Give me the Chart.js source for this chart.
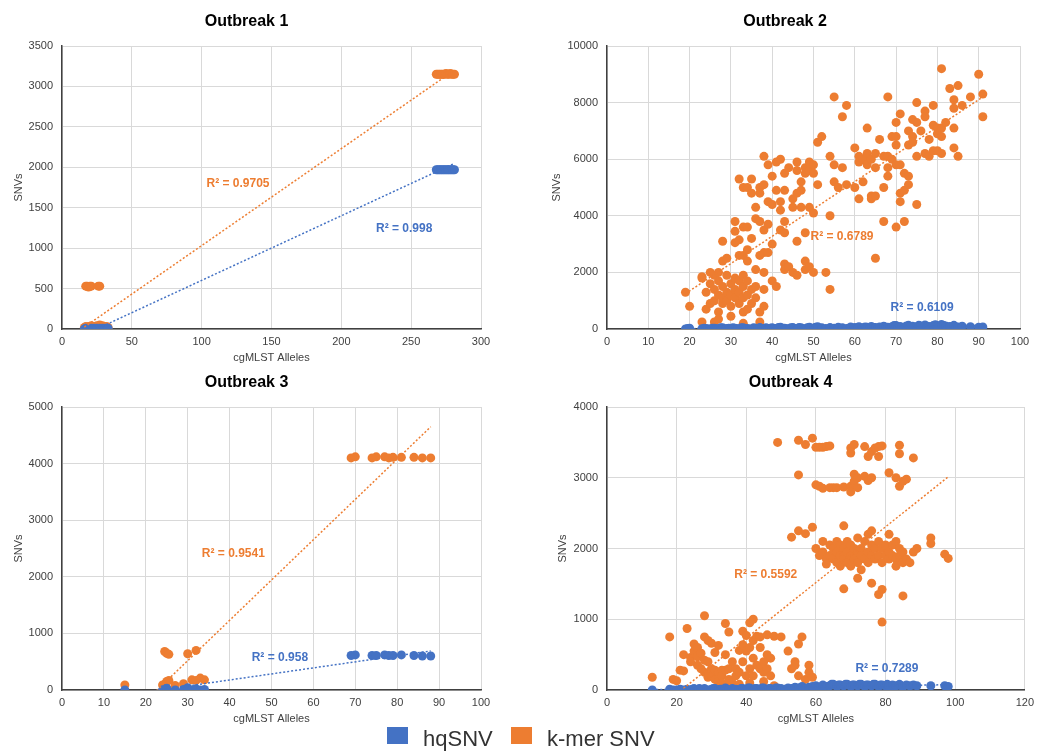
<!DOCTYPE html>
<html>
<head>
<meta charset="utf-8">
<script src="https://cdn.jsdelivr.net/npm/chart.js@4.4.1/dist/chart.umd.min.js"></script>
<style>
  body { margin:0; background:#fff; width:1040px; height:753px; position:relative; overflow:hidden; font-family:'Liberation Sans', Arial, sans-serif; }
  canvas { position:absolute; }
  .sw { position:absolute; width:21px; height:17px; }
  .lt { position:absolute; font-size:22px; line-height:22px; color:#333; white-space:nowrap; }
</style>
</head>
<body>
<canvas id="c1" width="520" height="372" style="left:0;top:0"></canvas>
<canvas id="c2" width="520" height="372" style="left:520px;top:0"></canvas>
<canvas id="c3" width="520" height="372" style="left:0;top:361px"></canvas>
<canvas id="c4" width="520" height="372" style="left:520px;top:361px"></canvas>
<div id="legend"></div>
<script>
// ---- data: [cgMLST alleles, SNVs] ----
const seriesNames = ['hqSNV', 'k-mer SNV'];

// Outbreak 1
const ob1Hq = [[16,0],[17,10],[18,0],[19,10],[20,0],[21,10],[22,0],[23,10],[24,0],[25,10],[26,0],[27,10],[28,0],[29,10],[30,0],[31,10],[32,0],[33,10],
  [268,1970],[269,1970],[270,1970],[271,1970],[272,1970],[273,1970],[274,1970],[275,1970],[276,1970],[277,1970],[278,1970],[279,1970],[280,1970],[281,1970]];
const ob1Kmer = [[16,20],[17,30],[18,10],[19,30],[20,20],[21,40],[22,10],[23,30],[24,20],[25,40],[26,30],[27,50],[28,20],[29,40],[30,30],[31,20],[32,30],[33,20],
  [17,530],[18,530],[19,520],[20,530],[21,530],[26,530],[27,530],
  [268,3150],[269,3150],[270,3150],[271,3150],[272,3150],[273,3150],[274,3150],[275,3160],[276,3150],[277,3150],[278,3160],[279,3150],[280,3150],[281,3150]];
const ob1HqTrend = [[16,-70],[280,2040]];
const ob1KmerTrend = [[16,24],[280,3190]];
const ob1R2 = [{x:245,y:1237,text:'R² = 0.998',s:0},{x:126,y:1793,text:'R² = 0.9705',s:1}];

// Outbreak 2
const ob2Hq = [[19,0],[19.5,20],[20,30],[23,10],[23.5,30],[24,20],[24.5,0],[25,0],[25.5,30],[26,30],[26.5,10],[27,10],[27.5,40],[28,40],[28.5,0],[29,20],[29.5,30],[30,0],[30.5,40],[31,30],[31.5,10],[32,10],[32.5,40],[33,40],[33.5,20],[34,20],[34.5,0],[35,0],[35.5,40],[36,30],[36.5,10],[37,50],[37.5,20],[38,20],[38.5,40],[39,10],[39.5,30],[40,40],[40.5,20],[41,20],[41.5,50],[42,60],[42.5,30],[43,30],[43.5,10],[44,10],[44.5,40],[45,50],[45.5,20],[46,20],[46.5,50],[47,40],[47.5,10],[48,10],[48.5,40],[49,60],[49.5,30],[50,30],[50.5,60],[51,80],[52,40],[53,20],[54,50],[55,30],[56,60],[57,40],[58,20],[59,70],[60,50],[60.5,30],[61,80],[62,40],[62.5,70],[63,60],[64,90],[64.5,50],[65,50],[66,70],[67,100],[67.5,60],[68,60],[69,80],[69.5,120],[70,120],[70.5,70],[71,90],[72,60],[72.5,110],[73,130],[73.5,90],[74,100],[75,80],[75.5,130],[76,110],[77,140],[77.5,80],[78,90],[79,120],[79.5,150],[80,100],[81,160],[81.5,120],[82,110],[83,90],[84,130],[84.5,60],[85,70],[86,100],[88,80],[90,60],[91,70]];
const ob2Kmer = [[19,1300],[20,800],[23,250],[23,1850],[23,1800],[24,700],[24,1300],[25,1600],[25,900],[25,2000],[26,1000],[26,1400],[26,1900],[26,250],[27,1700],[27,1200],[27,600],[27,2000],[27,350],[28,2400],[28,3100],[28,1500],[28,900],[28,1100],[29,2500],[29,1900],[29,1300],[29,1000],[30,1600],[30,1200],[30,800],[30,450],[31,3800],[31,3450],[31,3050],[31,1800],[31,1400],[31,1100],[32,5300],[32,3150],[32,2600],[32,1700],[32,1300],[32,900],[33,5000],[33,3600],[33,2600],[33,1900],[33,1500],[33,1100],[33,600],[33,200],[34,5000],[34,3600],[34,2800],[34,2400],[34,1700],[34,1200],[34,700],[35,5300],[35,4800],[35,3200],[35,1400],[35,900],[36,4300],[36,3900],[36,2100],[36,1500],[36,1100],[37,5000],[37,4800],[37,3800],[37,2600],[37,600],[37,250],[38,6100],[38,5100],[38,3500],[38,2700],[38,2000],[38,1400],[38,800],[39,5800],[39,4500],[39,3700],[39,2700],[40,5400],[40,4400],[40,3000],[40,1700],[41,5900],[41,4900],[41,1500],[42,6000],[42,4500],[42,4200],[42,3500],[43,5500],[43,4900],[43,3800],[43,3400],[43,2300],[43,2100],[44,5700],[44,2200],[45,4600],[45,4300],[45,2000],[46,5900],[46,5600],[46,4800],[46,3100],[46,1900],[47,5200],[47,4900],[47,4300],[48,5700],[48,5500],[48,3400],[48,2400],[48,2100],[49,5900],[49,5600],[49,4300],[49,2200],[50,5800],[50,5500],[50,4100],[50,2000],[51,6600],[51,5100],[52,6800],[53,2000],[54,6100],[54,4000],[54,1400],[55,8200],[55,5800],[55,5200],[56,5000],[57,7500],[57,5700],[58,7900],[58,5100],[60,6400],[60,5000],[61,6100],[61,5900],[61,4600],[62,6000],[62,5200],[63,7100],[63,6200],[63,5800],[64,6000],[64,4700],[64,4600],[65,6200],[65,5700],[65,4700],[65,2500],[66,6700],[67,6100],[67,5000],[67,3800],[68,8200],[68,6100],[68,5700],[68,5400],[69,6800],[69,6000],[70,7300],[70,6800],[70,6500],[70,5800],[70,3600],[71,7600],[71,5800],[71,4800],[71,4500],[72,5500],[72,4900],[72,3800],[73,7000],[73,6500],[73,5400],[73,5100],[74,7400],[74,6800],[74,6600],[75,8000],[75,7300],[75,6100],[75,4400],[76,7000],[77,7700],[77,7500],[77,6200],[78,6700],[78,6100],[79,7900],[79,7200],[79,6300],[80,7100],[80,6900],[80,6300],[81,9200],[81,7100],[81,6800],[81,6200],[82,7300],[83,8500],[84,8100],[84,7800],[84,7100],[84,6400],[85,8600],[85,6100],[86,7900],[88,8200],[90,9000],[91,8300],[91,7500]];
const ob2HqTrend = [[19,10],[91,130]];
const ob2KmerTrend = [[19,1250],[91,8200]];
const ob2R2 = [{x:76.3,y:742,text:'R² = 0.6109',s:0},{x:56.9,y:3250,text:'R² = 0.6789',s:1}];

// Outbreak 3
const ob3Hq = [[15,0],[24,0],[24.5,20],[25,10],[25,30],[27,0],[29,10],[30,40],[31,0],[32,20],[33,0],[34,10],
  [69,610],[70,620],[74,610],[75,610],[77,620],[78,610],[79,610],[81,620],[84,610],[86,600],[88,600]];
const ob3Kmer = [[15,90],[24.5,680],[25,650],[25.5,630],[30,640],[32,700],
  [24,90],[24.5,100],[25,150],[25.5,170],[27,80],[29,110],[31,180],[32,170],[33,210],[34,180],
  [69,4100],[70,4120],[74,4100],[75,4120],[77,4120],[78,4100],[79,4110],[81,4110],[84,4110],[86,4100],[88,4100]];
const ob3HqTrend = [[15,-90],[88,690]];
const ob3KmerTrend = [[15,-550],[88,4650]];
const ob3R2 = [{x:52,y:565,text:'R² = 0.958',s:0},{x:40.9,y:2403,text:'R² = 0.9541',s:1}];

// Outbreak 4
const ob4Hq = [[13,0],[18,10],[19,0],[20,0],[21,10],[22,0],[23,10],[24,0],[24.5,10],[25,20],[26,0],[26.5,20],[27,10],[28,20],[28.5,0],[29,0],[30,10],[30.5,20],[31,20],[32,0],[32.5,10],[33,10],[34,30],[34.5,10],[35,0],[36,20],[36.5,0],[37,10],[38,0],[38.5,20],[39,20],[40,10],[40.5,30],[41,30],[42,0],[42.5,20],[43,20],[44,10],[44.5,30],[45,30],[46,0],[46.5,20],[47,20],[48,10],[48.5,30],[49,30],[50,20],[51,10],[52,30],[53,20],[54,40],[55,30],[56,50],[57,20],[58,40],[59,50],[60,60],[60.5,30],[61,40],[62,70],[62.5,40],[63,50],[64,60],[64.5,80],[65,80],[66,50],[66.5,70],[67,70],[68,60],[68.5,80],[69,80],[70,50],[70.5,70],[71,70],[72,60],[72.5,80],[73,80],[74,50],[74.5,70],[75,70],[76,60],[76.5,80],[77,80],[78,50],[78.5,70],[79,70],[80,60],[80.5,80],[81,50],[82,70],[82.5,50],[83,60],[84,80],[84.5,60],[85,50],[86,70],[87,60],[88,70],[89,60],[93,60],[97,60],[98,50]];
const ob4Kmer = [[49,3500],[55,3530],[57,3470],[59,3560],[60,3430],[61,3430],[62,3430],[63,3440],[64,3450],[70,3350],[70,3420],[71,3470],[74,3440],[75,3300],[76,3370],[77,3420],[78,3440],[78,3300],[79,3450],[84,3460],[84,3340],[88,3280],
  [55,3040],[60,2900],[61,2880],[62,2850],[64,2860],[65,2860],[66,2860],[68,2870],[70,2880],[70,2800],[71,2950],[71,3050],[72,3000],[72,2860],[74,3020],[75,2960],[76,3000],[81,3070],[83,3000],[84,2880],[85,2950],[86,2980],
  [53,2160],[55,2250],[57,2210],[59,2300],[60,2000],[61,1900],[62,2100],[62,1950],[63,1850],[63,1780],[64,2050],[64,1900],[65,2000],[65,1850],[66,2100],[66,1950],[66,1800],[67,2050],[67,1900],[67,1750],[68,2320],[68,2000],[68,1900],[68,1850],[69,2100],[69,1950],[69,1800],[70,2050],[70,1900],[70,1750],[71,2000],[71,1850],[72,2150],[72,1950],[72,1800],[73,2000],[73,1900],[73,1700],[74,2100],[74,1850],[75,2200],[75,1950],[75,1800],[76,2250],[76,2050],[76,1900],[77,2000],[77,1850],[78,2100],[78,1900],[79,2000],[79,1800],[80,2050],[80,1900],[81,2200],[81,1950],[81,1850],[82,2050],[82,1900],[83,2100],[83,1850],[83,1750],[84,2000],[84,1900],[85,1950],[85,1800],[86,1850],[87,1800],[88,1950],[89,2000],[93,2150],[93,2070],[97,1920],[98,1860],
  [68,1430],[72,1580],[76,1510],[78,1350],[79,1420],[85,1330],[79,960],
  [13,180],[18,750],[19,150],[20,130],[21,280],[22,270],[22,500],[23,870],[24,460],[24,400],[25,650],[25,550],[26,600],[26,470],[26,350],[27,520],[27,300],[28,1050],[28,750],[28,420],[28,250],[29,700],[29,400],[29,180],[30,660],[30,300],[30,200],[31,530],[31,280],[31,150],[32,630],[32,250],[32,120],[33,280],[33,200],[33,100],[34,940],[34,500],[34,280],[34,60],[35,820],[35,300],[35,150],[36,400],[36,100],[37,300],[37,200],[38,560],[38,250],[38,80],[39,830],[39,640],[39,400],[40,770],[40,550],[40,200],[41,950],[41,600],[41,300],[41,100],[42,1000],[42,700],[42,450],[42,200],[43,760],[43,350],[44,750],[44,600],[44,300],[45,400],[45,250],[45,120],[46,780],[46,500],[46,300],[47,450],[47,200],[48,760],[48,60],[50,750],[52,550],[53,300],[54,400],[54,350],[55,200],[55,650],[56,750],[57,150],[58,350],[58,250],[59,180]];
const ob4HqTrend = [[13,5],[98,75]];
const ob4KmerTrend = [[13,-330],[98,3014]];
const ob4R2 = [{x:80.4,y:296,text:'R² = 0.7289',s:0},{x:45.6,y:1634,text:'R² = 0.5592',s:1}];

// axis ranges: [xMax, xStep, yMax, yStep]
const ob1Axes = [300, 50, 3500, 500];
const ob2Axes = [100, 10, 10000, 2000];
const ob3Axes = [100, 10, 5000, 1000];
const ob4Axes = [120, 20, 4000, 1000];

// ---- drawing ----
const COLORS = ['#4472C4', '#ED7D31'];
const FONT = "'Liberation Sans', Arial, sans-serif";
Chart.defaults.font.family = FONT;
Chart.defaults.color = '#404040';

const pts = a => a.map(([x, y]) => ({x, y}));

function r2Plugin(items) {
  return {
    id: 'r2Labels',
    afterDatasetsDraw(chart) {
      const {ctx, scales: {x, y}} = chart;
      ctx.save();
      ctx.font = 'bold 12px ' + FONT;
      ctx.textAlign = 'center';
      ctx.textBaseline = 'middle';
      items.forEach(l => {
        ctx.fillStyle = COLORS[l.s];
        ctx.fillText(l.text, x.getPixelForValue(l.x), y.getPixelForValue(l.y));
      });
      ctx.restore();
    }
  };
}

function trend(d, c) {
  return { data: pts(d), showLine: true, pointRadius: 0, borderColor: c, borderWidth: 1.5, borderDash: [2, 2] };
}
function dots(label, d, c) {
  return { label, data: pts(d), pointRadius: 4.5, pointHoverRadius: 4.5, backgroundColor: c, borderWidth: 0, showLine: false };
}

function makeChart(id, title, hq, kmer, hqTrend, kmerTrend, labels, axes, pad) {
  const [xMax, xStep, yMax, yStep] = axes;
  new Chart(document.getElementById(id), {
    type: 'scatter',
    data: {
      datasets: [
        trend(hqTrend, COLORS[0]), trend(kmerTrend, COLORS[1]),
        dots(seriesNames[0], hq, COLORS[0]), dots(seriesNames[1], kmer, COLORS[1])
      ]
    },
    options: {
      responsive: false, animation: false, devicePixelRatio: 1,
      layout: { padding: { left: pad.l, right: pad.r, top: 0, bottom: 3 } },
      plugins: {
        legend: { display: false }, tooltip: { enabled: false },
        title: { display: true, text: title, color: '#000', font: { size: 16, weight: 'bold' }, padding: { top: 12, bottom: 14.8 } }
      },
      scales: {
        x: {
          type: 'linear', min: 0, max: xMax,
          ticks: { stepSize: xStep, autoSkip: false, maxRotation: 0, padding: 6, color: '#404040', font: { size: 11 }, callback: v => String(v) },
          grid: { color: '#d9d9d9', drawTicks: false },
          border: { color: '#404040', width: 1.5 },
          title: { display: true, text: 'cgMLST Alleles', color: '#404040', font: { size: 11 }, padding: { top: 4, bottom: 4 } },
          afterFit: s => { s.height = 40; }
        },
        y: {
          type: 'linear', min: 0, max: yMax,
          ticks: { stepSize: yStep, autoSkip: false, padding: 9, color: '#404040', font: { size: 11 }, callback: v => String(v) },
          grid: { color: '#d9d9d9', drawTicks: false },
          border: { color: '#404040', width: 1.5 },
          title: { display: true, text: 'SNVs', color: '#404040', font: { size: 11 }, padding: { top: 0, bottom: 0 } },
          afterFit: s => { s.width = pad.w; }
        }
      }
    },
    plugins: [r2Plugin(labels)]
  });
}

makeChart('c1', 'Outbreak 1', ob1Hq, ob1Kmer, ob1HqTrend, ob1KmerTrend, ob1R2, ob1Axes, { l: 12, r: 39, w: 50 });
makeChart('c2', 'Outbreak 2', ob2Hq, ob2Kmer, ob2HqTrend, ob2KmerTrend, ob2R2, ob2Axes, { l: 30, r: 20, w: 57 });
makeChart('c3', 'Outbreak 3', ob3Hq, ob3Kmer, ob3HqTrend, ob3KmerTrend, ob3R2, ob3Axes, { l: 12, r: 39, w: 50 });
makeChart('c4', 'Outbreak 4', ob4Hq, ob4Kmer, ob4HqTrend, ob4KmerTrend, ob4R2, ob4Axes, { l: 36, r: 15, w: 51 });

// shared legend
const legendPos = [[387, 423], [511, 547]];
document.getElementById('legend').innerHTML = seriesNames.map((n, i) =>
  `<div class="sw" style="left:${legendPos[i][0]}px;top:727px;background:${COLORS[i]}"></div>` +
  `<div class="lt" style="left:${legendPos[i][1]}px;top:728px">${n}</div>`
).join('');
</script>
</body>
</html>
